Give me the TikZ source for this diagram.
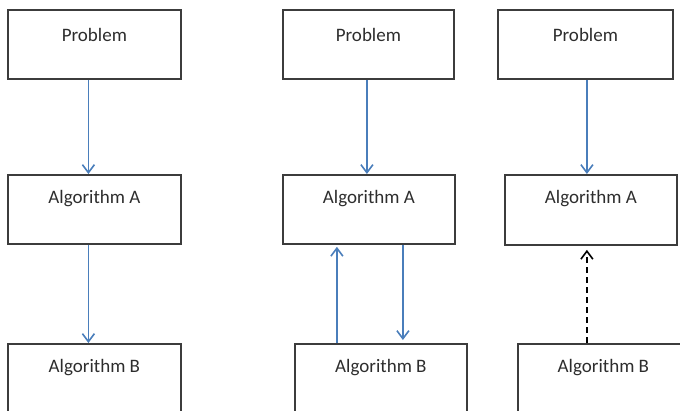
\documentclass[tikz,border=0pt]{standalone}
\usepackage{fontspec}
\setmainfont{Carlito}
\usetikzlibrary{arrows.meta}
\definecolor{arrblue}{RGB}{74,126,187}
\definecolor{boxgray}{RGB}{60,60,60}
\definecolor{txtgray}{RGB}{45,45,45}
\begin{document}
\begin{tikzpicture}[x=1pt,y=-1pt,
  box/.style={draw=boxgray,line width=1.8pt,rectangle,inner sep=0pt,anchor=north west},
  lbl/.style={font=\fontsize{19}{22}\selectfont,text=txtgray,anchor=center,inner sep=0pt},
  arr/.style={draw=arrblue,line width=1.8pt,-{Straight Barb[length=8pt,width=12pt,line width=1.6pt]}},
  darr/.style={draw=black,line width=1.8pt,dash pattern=on 6pt off 4pt,-{Straight Barb[length=8pt,width=12pt,line width=1.6pt]}}]
\useasboundingbox (0,0) rectangle (680,410);
\clip (0,0) rectangle (680,410);
% column 1
\node[box,minimum width=173pt,minimum height=69pt] (p1) at (7,9) {};
\node[box,minimum width=173pt,minimum height=69pt] (a1) at (7,174) {};
\node[box,minimum width=173pt,minimum height=90pt] (b1) at (7,343) {};
\node[lbl] (tp1) at ([yshift=-26pt]p1.north) {Problem};
\node[lbl] (ta1) at ([yshift=-25pt]a1.north) {Algorithm A};
\node[lbl] (tb1) at ([yshift=-25pt]b1.north) {Algorithm B};
\draw[arr] ([xshift=-6pt]p1.south) -- ([xshift=-6pt]a1.north);
\draw[arr] ([xshift=-6pt]a1.south) -- ([xshift=-6pt]b1.north);
% column 2
\node[box,minimum width=171pt,minimum height=69pt] (p2) at (282,9) {};
\node[box,minimum width=172pt,minimum height=69pt] (a2) at (282,174) {};
\node[box,minimum width=172pt,minimum height=90pt] (b2) at (294,343) {};
\node[lbl] (tp2) at ([yshift=-26pt]p2.north) {Problem};
\node[lbl] (ta2) at ([yshift=-25pt]a2.north) {Algorithm A};
\node[lbl] (tb2) at ([yshift=-25pt]b2.north) {Algorithm B};
\draw[arr] ([xshift=-1.5pt]p2.south) -- ([xshift=-2pt]a2.north);
\draw[arr] ([xshift=-44pt]b2.north) -- ([xshift=-32pt,yshift=-2pt]a2.south);
\draw[arr] ([xshift=34pt]a2.south) -- ([xshift=22pt,yshift=3pt]b2.north);
% column 3
\node[box,minimum width=175pt,minimum height=69pt] (p3) at (497,9) {};
\node[box,minimum width=172pt,minimum height=70pt] (a3) at (504,174) {};
\node[box,minimum width=175pt,minimum height=90pt] (b3) at (517,343) {};
\node[lbl] (tp3) at ([yshift=-26pt]p3.north) {Problem};
\node[lbl] (ta3) at ([yshift=-25pt]a3.north) {Algorithm A};
\node[lbl] (tb3) at ([xshift=-2pt,yshift=-25pt]b3.north) {Algorithm B};
\draw[arr] ([xshift=1.5pt]p3.south) -- ([xshift=-4pt]a3.north);
\draw[darr] ([xshift=-18.5pt]b3.north) -- ([xshift=-4pt,yshift=-4pt]a3.south);
\end{tikzpicture}
\end{document}
